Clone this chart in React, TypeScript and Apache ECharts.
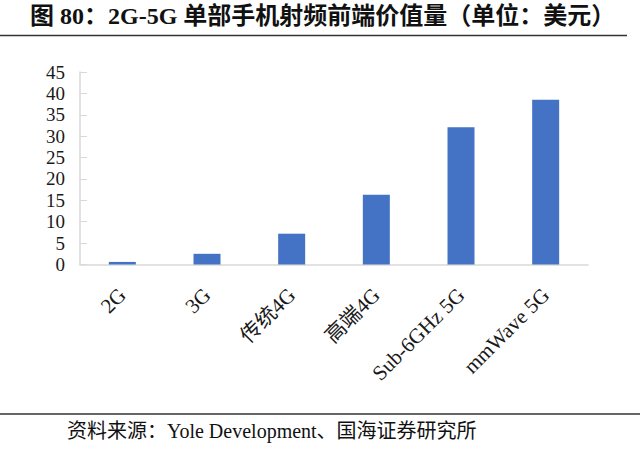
import React, { useEffect, useRef } from "react";
import * as echarts from "echarts";

const categories = ["2G", "3G", "传统4G", "高端4G", "Sub-6GHz 5G", "mmWave 5G"];
const values = [0.6, 2.5, 7.2, 16.3, 32.1, 38.5];
const yMin = 0;
const yMax = 45;
const yInterval = 5;
const titleText = "图 80：2G-5G 单部手机射频前端价值量（单位：美元）";
const sourceText = "资料来源：Yole Development、国海证券研究所";

const FONT = "'Liberation Serif', 'Noto Sans CJK SC', serif";

export default function App() {
  const ref = useRef<HTMLDivElement>(null);
  useEffect(() => {
    if (!ref.current) return;
    const chart = echarts.init(ref.current, undefined, { renderer: "svg" });
    chart.setOption({
      animation: false,
      backgroundColor: "#ffffff",
      grid: { left: 80, right: 52, top: 72, bottom: 184.5, containLabel: false },
      xAxis: {
        type: "category",
        data: categories,
        axisLine: { show: true, lineStyle: { color: "#d9d9d9", width: 1.5 } },
        axisTick: { show: false },
        axisLabel: {
          rotate: 45,
          margin: 27,
          interval: 0,
          color: "#1a1a1a",
          fontSize: 21,
          fontFamily: FONT,
        },
      },
      yAxis: {
        type: "value",
        min: yMin,
        max: yMax,
        interval: yInterval,
        axisLine: { show: true, lineStyle: { color: "#d9d9d9", width: 1.5 } },
        axisTick: { show: true, inside: true, length: 7, lineStyle: { color: "#d9d9d9" } },
        splitLine: { show: false },
        axisLabel: {
          margin: 15,
          color: "#1a1a1a",
          fontSize: 19,
          fontFamily: FONT,
        },
      },
      series: [
        {
          type: "bar",
          data: values,
          barWidth: 27,
          itemStyle: { color: "#4472C4" },
        },
      ],
      graphic: [
        {
          type: "text",
          left: 30,
          top: 4,
          style: {
            text: titleText,
            fontSize: 24,
            fontWeight: "bold",
            fontFamily: FONT,
            fill: "#111111",
          },
        },
        {
          type: "line",
          shape: { x1: 0, y1: 35.5, x2: 627, y2: 35.5 },
          style: { stroke: "#333333", lineWidth: 1.5 },
        },
        {
          type: "line",
          shape: { x1: 0, y1: 414, x2: 640, y2: 414 },
          style: { stroke: "#333333", lineWidth: 1.5 },
        },
        {
          type: "text",
          left: 67,
          top: 421,
          style: {
            text: sourceText,
            fontSize: 20,
            fontFamily: FONT,
            fill: "#111111",
          },
        },
      ],
    });
    return () => chart.dispose();
  }, []);
  return (
    <div
      ref={ref}
      style={{ position: "absolute", left: 0, top: 0, width: 640, height: 449 }}
    />
  );
}
